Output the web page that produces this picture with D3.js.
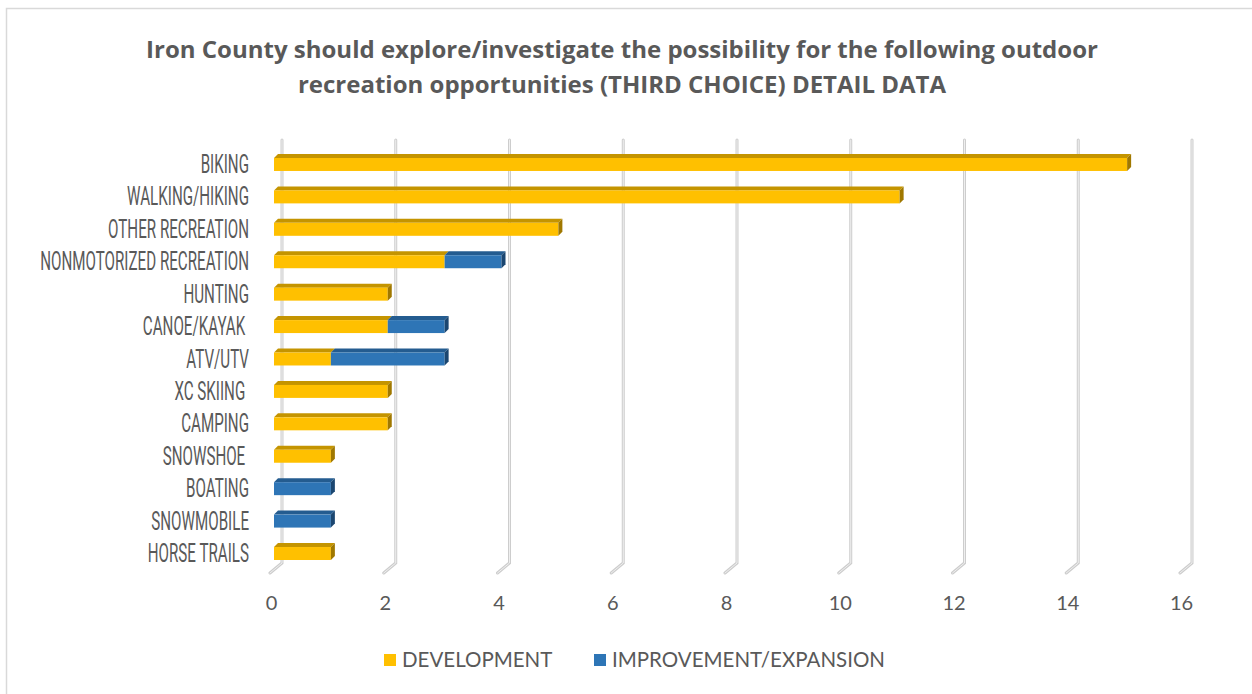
<!DOCTYPE html>
<html>
  <head>
    <meta charset="utf-8">
    <title>Iron County outdoor recreation - third choice</title>
    <script src="https://d3js.org/d3.v7.min.js"></script>
    <style>
      body { margin: 0; background: #fff; }
      text { fill: #595959; }
    </style>
  </head>
  <body>
    <div id="chart"></div>
    <script>
      // data
      var categories = ["BIKING", "WALKING/HIKING", "OTHER RECREATION", "NONMOTORIZED RECREATION",
        "HUNTING", "CANOE/KAYAK ", "ATV/UTV", "XC SKIING ", "CAMPING", "SNOWSHOE ",
        "BOATING", "SNOWMOBILE", "HORSE TRAILS"];
      var development = [15, 11, 5, 3, 2, 2, 1, 2, 2, 1, 0, 0, 1];
      var improvement = [0, 0, 0, 1, 0, 1, 2, 0, 0, 0, 1, 1, 0];
      var seriesNames = ["DEVELOPMENT", "IMPROVEMENT/EXPANSION"];
      var xTicks = [0, 2, 4, 6, 8, 10, 12, 14, 16];
      var titleLines = ["Iron County should explore/investigate the possibility for the following outdoor",
        "recreation opportunities (THIRD CHOICE) DETAIL DATA"];

      // colours: front, top, side
      var colours = [
        { front: "#FFC000", top: "#C49400", side: "#A07800" },
        { front: "#2E75B6", top: "#245C90", side: "#1B4670" }
      ];

      var width = 1252, height = 694;
      var depth = { dx: 4, dy: -4 };     // bar depth
      var floor = { dx: -12, dy: 10 };   // floor projection of gridlines
      var wallTop = 140, wallBottom = 563;

      var svg = d3.select("#chart").append("svg")
        .attr("width", width)
        .attr("height", height);

      // chart border
      svg.append("rect")
        .attr("x", 6.5).attr("y", 8.5)
        .attr("width", width + 10).attr("height", height + 10)
        .attr("fill", "none")
        .attr("stroke", "#d9d9d9")
        .attr("stroke-width", 1.5);

      // scales
      var xBack = d3.scaleLinear().domain([0, 16]).range([282, 1192]);
      var xBar = d3.scaleLinear().domain([0, 16]).range([274, 1184]);
      var xTick = d3.scaleLinear().domain([0, 16]).range([271, 1181]);
      var y = d3.scaleBand()
        .domain(categories)
        .range([158, 560])
        .paddingInner(0.6)
        .paddingOuter(0);

      // title
      svg.append("text")
        .attr("x", 622)
        .attr("text-anchor", "middle")
        .style("font-family", "'Open Sans', sans-serif")
        .style("font-weight", "bold")
        .style("font-size", "24px")
        .selectAll("tspan")
        .data(titleLines)
        .enter().append("tspan")
          .attr("x", 622)
          .attr("y", function(d, i) { return 58 + i * 35; })
          .text(function(d) { return d; });

      // gridlines (back wall + floor)
      var grid = svg.append("g").attr("class", "grid");
      function gridPath(v) {
        var bx = xBack(v);
        return "M" + bx + "," + wallTop + "L" + bx + "," + wallBottom +
          "L" + (bx + floor.dx) + "," + (wallBottom + floor.dy);
      }
      grid.selectAll(".outer")
        .data(xTicks)
        .enter().append("path")
          .attr("d", gridPath)
          .attr("fill", "none")
          .attr("stroke", "#cdcdcd")
          .attr("stroke-width", 3)
          .attr("stroke-linecap", "round");
      grid.selectAll(".inner")
        .data(xTicks)
        .enter().append("path")
          .attr("d", gridPath)
          .attr("fill", "none")
          .attr("stroke", "#efefef")
          .attr("stroke-width", 1)
          .attr("stroke-linecap", "round");

      // x axis labels
      var xAxis = svg.append("g")
        .attr("transform", "translate(0,596)")
        .call(d3.axisBottom(xTick).tickValues(xTicks).tickSize(0).tickPadding(0));
      xAxis.select(".domain").remove();
      xAxis.selectAll("text")
        .style("font-family", "Lato, sans-serif")
        .style("font-size", "20px")
        .attr("dy", "0.71em")
        .style("fill", "#595959");

      // category labels (condensed look)
      var labels = svg.append("g").attr("class", "labels");
      var labelNodes = labels.selectAll("g")
        .data(categories)
        .enter().append("g");
      labelNodes.append("text")
        .attr("text-anchor", "end")
        .attr("dy", "0.34em")
        .style("white-space", "pre")
        .style("font-family", "Roboto, sans-serif")
        .style("font-size", "25px")
        .text(function(d) { return d; });
      var longest = d3.max(labelNodes.select("text").nodes(), function(n) { return n.getComputedTextLength(); });
      var sx = 209 / longest;
      labelNodes.attr("transform", function(d) {
        return "translate(249," + (y(d) + y.bandwidth() / 2) + ") scale(" + sx + ",1)";
      });

      // stacked segments
      var rows = categories.map(function(c, i) {
        return { cat: c, segs: [
          { s: 0, x0: 0, x1: development[i] },
          { s: 1, x0: development[i], x1: development[i] + improvement[i] }
        ].filter(function(d) { return d.x1 > d.x0; }) };
      });

      var bars = svg.append("g").attr("class", "bars")
        .selectAll("g")
        .data(rows)
        .enter().append("g");

      // top faces
      bars.selectAll(".top")
        .data(function(r) { return r.segs.map(function(s) { s.cat = r.cat; return s; }); })
        .enter().append("path")
          .attr("class", "top")
          .attr("d", function(d) {
            var a = xBar(d.x0), b = xBar(d.x1), t = y(d.cat);
            return "M" + a + "," + t + "L" + (a + depth.dx) + "," + (t + depth.dy) +
              "L" + (b + depth.dx) + "," + (t + depth.dy) + "L" + b + "," + t + "Z";
          })
          .attr("fill", function(d) { return colours[d.s].top; });

      // front faces
      bars.selectAll(".front")
        .data(function(r) { return r.segs; })
        .enter().append("rect")
          .attr("class", "front")
          .attr("x", function(d) { return xBar(d.x0); })
          .attr("y", function(d) { return y(d.cat); })
          .attr("width", function(d) { return xBar(d.x1) - xBar(d.x0); })
          .attr("height", y.bandwidth())
          .attr("fill", function(d) { return colours[d.s].front; });

      // side face of the last segment
      bars.append("path")
        .attr("d", function(r) {
          var d = r.segs[r.segs.length - 1];
          var b = xBar(d.x1), t = y(d.cat), h = y.bandwidth();
          return "M" + b + "," + t + "L" + (b + depth.dx) + "," + (t + depth.dy) +
            "L" + (b + depth.dx) + "," + (t + h + depth.dy) + "L" + b + "," + (t + h) + "Z";
        })
        .attr("fill", function(r) { return colours[r.segs[r.segs.length - 1].s].side; });

      // legend
      var legendX = [384, 594];
      var legend = svg.append("g").attr("class", "legend")
        .selectAll("g")
        .data(seriesNames)
        .enter().append("g")
          .attr("transform", function(d, i) { return "translate(" + legendX[i] + ",654)"; });
      legend.append("rect")
        .attr("width", 12).attr("height", 12)
        .attr("fill", function(d, i) { return colours[i].front; });
      legend.append("text")
        .attr("x", 18)
        .attr("y", 6)
        .attr("dy", "0.36em")
        .style("font-family", "Lato, sans-serif")
        .style("font-size", "20.5px")
        .text(function(d) { return d; });
    </script>
  </body>
</html>
